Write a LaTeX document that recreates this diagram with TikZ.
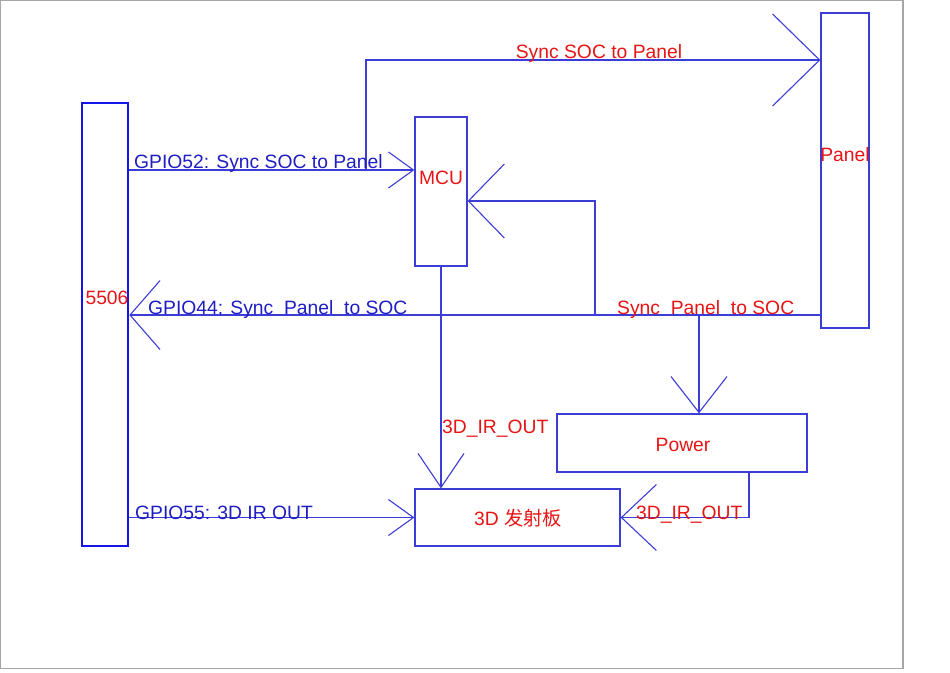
\documentclass[tikz,border=0pt]{standalone}
\usepackage{fontspec}
\setmainfont{Liberation Sans}
\newfontfamily\cjk{Noto Sans CJK SC}
\usetikzlibrary{arrows.meta}
\definecolor{lineblue}{RGB}{60,60,215}
\definecolor{boxblue}{RGB}{20,20,235}
\definecolor{txtblue}{RGB}{30,30,195}
\definecolor{txtred}{RGB}{230,20,20}

\begin{document}
\begin{tikzpicture}[x=1pt,y=-1pt,font=\fontsize{19.3}{22}\selectfont,
  box/.style={draw=lineblue,line width=1.2pt,inner sep=0pt},
  wire/.style={draw=lineblue,line width=1.1pt},
  redtxt/.style={text=txtred,inner sep=0pt},
  bluetxt/.style={text=txtblue,inner sep=0pt,anchor=base west},
  barb/.style 2 args={-{Straight Barb[length=#1,width=#2]}}]
  \useasboundingbox (0,0) rectangle (950,672);
  \draw[gray!70,line width=1.2pt] (0.6,0.6) rectangle (903,668.4);

  % boxes
  \node[box,draw=boxblue,line width=2.6pt,minimum width=46,minimum height=443] (soc) at (105,324.5) {};
  \node[box,minimum width=52,minimum height=149] (mcu) at (441,191.5) {};
  \node[box,minimum width=48,minimum height=315] (panel) at (845,170.5) {};
  \node[box,minimum width=250,minimum height=58] (power) at (682,443) {};
  \node[box,minimum width=205,minimum height=57] (td) at (517.5,517.5) {};
  \node[redtxt] (socl) at (107,298) {5506};
  \node[redtxt] (mcul) at (441,178) {MCU};
  \node[redtxt] (panell) at (845,155) {Panel};
  \node[redtxt] (powerl) at (683,445) {Power};
  \node[redtxt] (tdl) at (518,518) {3D {\cjk 发射板}};

  % SOC to panel
  \coordinate (tap52) at (366,170);
  \draw[wire,barb={25pt}{36pt}] (soc.east |- tap52) -- (mcu.west |- tap52);
  \draw[wire,barb={47pt}{92pt}] (tap52) -- (366,60) -- (panel.west |- 0,60);
  \node[bluetxt] (l52) at (134,168) {GPIO52: Sync SOC to Panel};
  \node[redtxt,anchor=base] (lsp) at (599,58) {Sync SOC to Panel};

  % panel to SOC
  \coordinate (tapm) at (595,315);
  \coordinate (tapp) at (699,315);
  \draw[wire,barb={30pt}{69pt}] (panel.west |- tapm) -- (soc.east |- tapm);
  \draw[wire,barb={36pt}{74pt}] (tapm) |- (mcu.east |- 0,201);
  \draw[wire,barb={36pt}{56pt}] (tapp) -- (power.north -| tapp);
  \node[bluetxt] (l44) at (148,314) {GPIO44: Sync\ \ Panel\ \ to SOC};
  \node[redtxt,anchor=base west] (lps) at (617,314) {Sync\ \ Panel\ \ to SOC};

  % 3D IR out
  \coordinate (tapw) at (749,472);
  \draw[wire,barb={34pt}{46pt}] (mcu.south) -- (td.north -| mcu.south);
  \draw[wire,barb={25pt}{36pt}] (soc.east |- td.west) -- (td.west);
  \draw[wire,barb={35pt}{66pt}] (tapw) |- (td.east);
  \node[redtxt,anchor=base west] (lir1) at (442,433) {3D\_IR\_OUT};
  \node[redtxt,anchor=base west] (lir2) at (636,519) {3D\_IR\_OUT};
  \node[bluetxt] (l55) at (135,519) {GPIO55: 3D IR OUT};
\end{tikzpicture}
\end{document}
